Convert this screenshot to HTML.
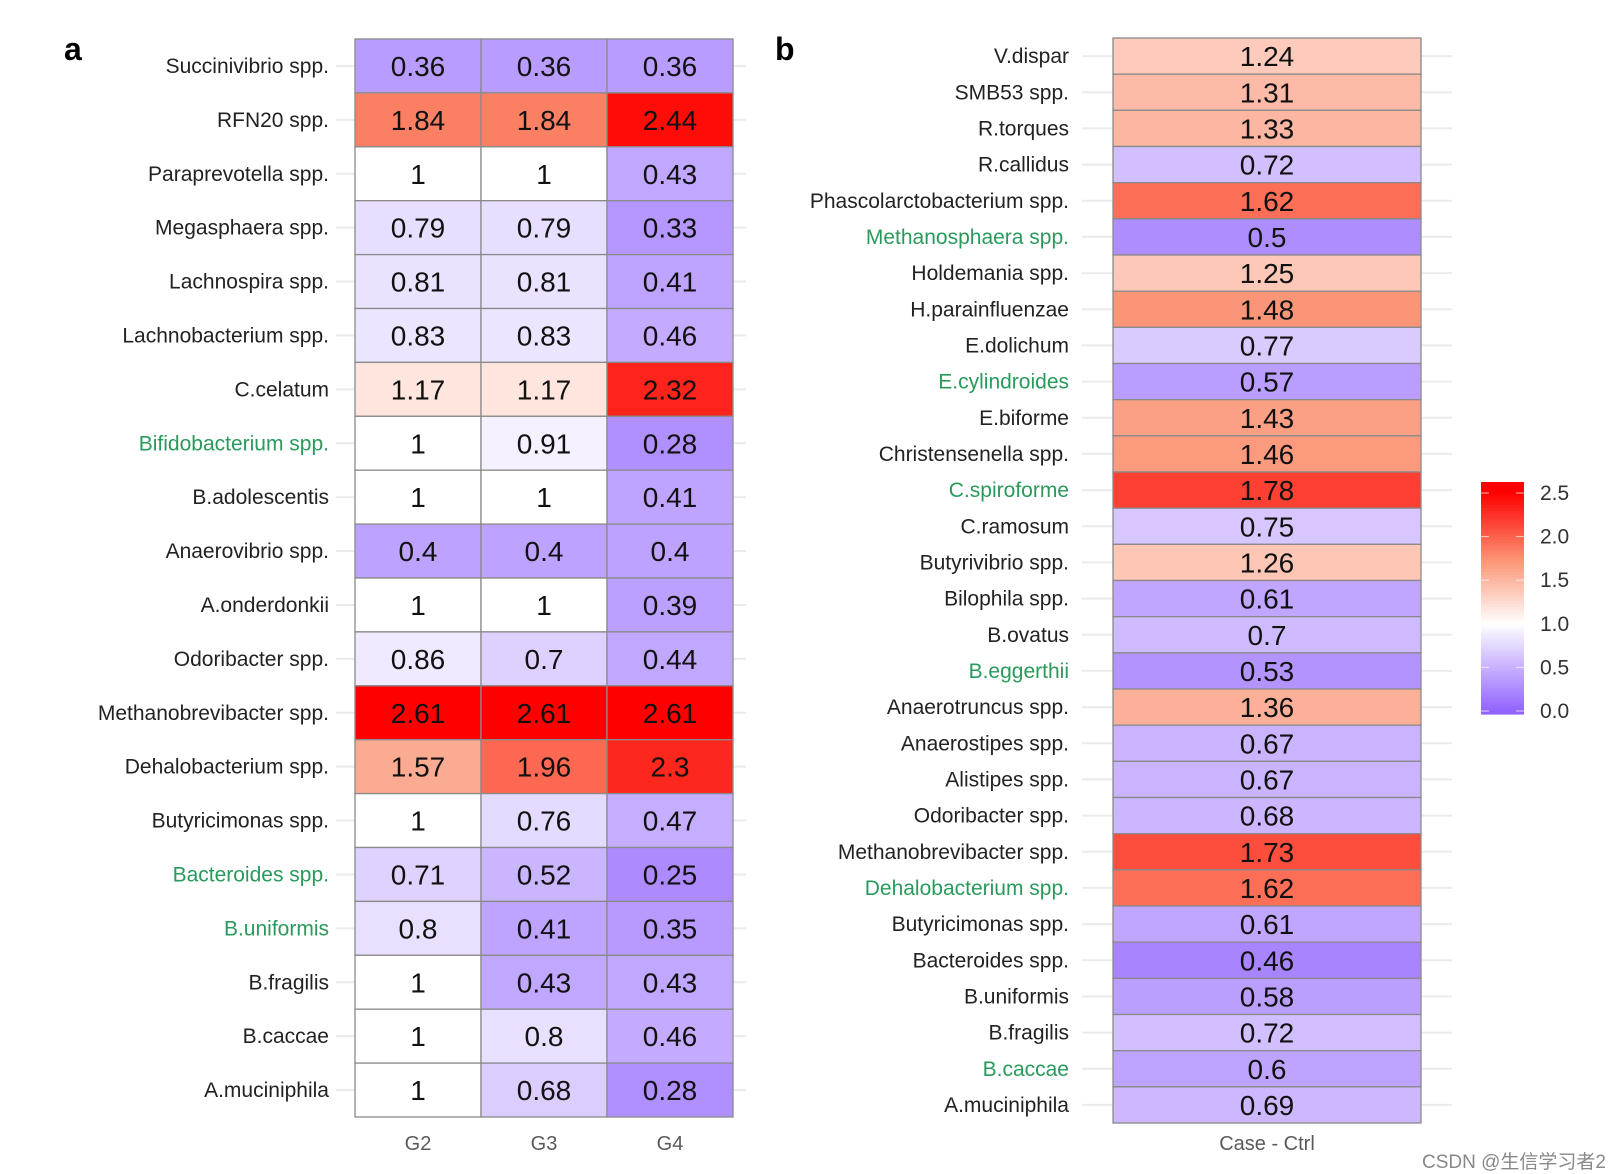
<!DOCTYPE html>
<html><head><meta charset="utf-8">
<style>
html,body{margin:0;padding:0;background:#fff;}
svg{display:block;font-family:"Liberation Sans","Noto Sans CJK SC",sans-serif;}
</style></head>
<body>
<svg id="chart" width="1612" height="1174" viewBox="0 0 1612 1174" xmlns="http://www.w3.org/2000/svg">
<text x="64" y="60" font-size="32" font-weight="bold" fill="#000">a</text>
<text x="775" y="60" font-size="32" font-weight="bold" fill="#000">b</text>
<g id="pa"></g>
<g id="pb"></g>
<g id="legend"></g>
<text x="1606" y="1168" font-size="19" fill="#888" text-anchor="end">CSDN @生信学习者2</text>
</svg>
<script>
const aLabels=["Succinivibrio spp.","RFN20 spp.","Paraprevotella spp.","Megasphaera spp.","Lachnospira spp.","Lachnobacterium spp.","C.celatum","Bifidobacterium spp.","B.adolescentis","Anaerovibrio spp.","A.onderdonkii","Odoribacter spp.","Methanobrevibacter spp.","Dehalobacterium spp.","Butyricimonas spp.","Bacteroides spp.","B.uniformis","B.fragilis","B.caccae","A.muciniphila"];
const aGreen=["Bifidobacterium spp.","Bacteroides spp.","B.uniformis"];
const aCols=["G2","G3","G4"];
const aG2=[0.36,1.84,1,0.79,0.81,0.83,1.17,1,1,0.4,1,0.86,2.61,1.57,1,0.71,0.8,1,1,1];
const aG3=[0.36,1.84,1,0.79,0.81,0.83,1.17,0.91,1,0.4,1,0.7,2.61,1.96,0.76,0.52,0.41,0.43,0.8,0.68];
const aG4=[0.36,2.44,0.43,0.33,0.41,0.46,2.32,0.28,0.41,0.4,0.39,0.44,2.61,2.3,0.47,0.25,0.35,0.43,0.46,0.28];
const bLabels=["V.dispar","SMB53 spp.","R.torques","R.callidus","Phascolarctobacterium spp.","Methanosphaera spp.","Holdemania spp.","H.parainfluenzae","E.dolichum","E.cylindroides","E.biforme","Christensenella spp.","C.spiroforme","C.ramosum","Butyrivibrio spp.","Bilophila spp.","B.ovatus","B.eggerthii","Anaerotruncus spp.","Anaerostipes spp.","Alistipes spp.","Odoribacter spp.","Methanobrevibacter spp.","Dehalobacterium spp.","Butyricimonas spp.","Bacteroides spp.","B.uniformis","B.fragilis","B.caccae","A.muciniphila"];
const bGreen=["Methanosphaera spp.","E.cylindroides","C.spiroforme","B.eggerthii","Dehalobacterium spp.","B.caccae"];
const bVals=[1.24,1.31,1.33,0.72,1.62,0.5,1.25,1.48,0.77,0.57,1.43,1.46,1.78,0.75,1.26,0.61,0.7,0.53,1.36,0.67,0.67,0.68,1.73,1.62,0.61,0.46,0.58,0.72,0.6,0.69];
const legendTicks=[0,0.5,1,1.5,2,2.5];

const NS="http://www.w3.org/2000/svg";
function mk(tag,attrs,parent){const e=document.createElementNS(NS,tag);for(const k in attrs)e.setAttribute(k,attrs[k]);parent.appendChild(e);return e;}
function mix(a,b,t){return [0,1,2].map(i=>Math.round(a[i]+(b[i]-a[i])*t));}
function color(v,lo,hi){
  const W=[255,255,255],L=[145,100,255],M=[251,145,113],R=[255,0,0];
  let c;
  if(v<1){const f=Math.min(1,(1-v)/(1-lo));c=mix(W,L,f);}
  else{const f=Math.min(1,(v-1)/(hi-1));c=f<0.5?mix(W,M,f/0.5):mix(M,R,(f-0.5)/0.5);}
  return `rgb(${c[0]},${c[1]},${c[2]})`;
}
function fmt(v){return String(v);}

// Panel a
(function(){
  const g=document.getElementById('pa');
  const x0=355,x1=733,y0=39,y1=1117;
  const n=aLabels.length,cw=(x1-x0)/aCols.length,rh=(y1-y0)/n;
  const xs=i=>x0+i*cw, ys=j=>y0+j*rh;
  const series=[aG2,aG3,aG4];
  aLabels.forEach((lab,j)=>{
    const yc=ys(j)+rh/2;
    const gl=mk('line',{x1:336,x2:746,y1:yc,y2:yc,stroke:'#ebebeb','stroke-width':2},g);
    
    
    const t=mk('text',{x:329,y:yc+7,'font-size':21,'text-anchor':'end',fill:aGreen.includes(lab)?'#2a9a5c':'#222'},g);
    t.textContent=lab;
    
    
  });
  aCols.forEach((c,i)=>{
    const t=mk('text',{x:xs(i)+cw/2,y:1150,'font-size':20,'text-anchor':'middle',fill:'#5a5a5a'},g);
    t.textContent=c;
    
    
  });
  series.forEach((vals,i)=>{
    vals.forEach((v,j)=>{
      const r=mk('rect',{x:xs(i),y:ys(j),width:cw,height:rh,fill:color(v,0,2.5),stroke:'#8a8a8a','stroke-width':1.3},g);
      
      
      const t=mk('text',{x:xs(i)+cw/2,y:ys(j)+rh/2+10,'font-size':28,'text-anchor':'middle',fill:'#111'},g);
      t.textContent=fmt(v);
      
      
    });
  });
})();

// Panel b
(function(){
  const g=document.getElementById('pb');
  const x0=1113,x1=1421,y0=38,y1=1123;
  const n=bLabels.length,rh=(y1-y0)/n;
  const ys=j=>y0+j*rh;
  bLabels.forEach((lab,j)=>{
    const yc=ys(j)+rh/2;
    const gl=mk('line',{x1:1082,x2:1452,y1:yc,y2:yc,stroke:'#ebebeb','stroke-width':2},g);
    
    
    const t=mk('text',{x:1069,y:yc+7,'font-size':21,'text-anchor':'end',fill:bGreen.includes(lab)?'#2a9a5c':'#222'},g);
    t.textContent=lab;
    
    
  });
  bVals.forEach((v,j)=>{
    const r=mk('rect',{x:x0,y:ys(j),width:x1-x0,height:rh,fill:color(v,0.32,2.0),stroke:'#8a8a8a','stroke-width':1.3},g);
    
    
    const t=mk('text',{x:(x0+x1)/2,y:ys(j)+rh/2+10,'font-size':28,'text-anchor':'middle',fill:'#111'},g);
    t.textContent=fmt(v);
    
    
  });
  const t=mk('text',{x:(x0+x1)/2,y:1150,'font-size':20,'text-anchor':'middle',fill:'#5a5a5a'},g);
  t.textContent='Case - Ctrl';
  
  
})();

// Legend
(function(){
  const g=document.getElementById('legend');
  const lx=1481,lw=43,by0=482,by1=714;
  const ty0=493,ty1=711,vmax=2.5;
  const yv=v=>ty1-(v/vmax)*(ty1-ty0);
  const steps=80;
  for(let k=0;k<steps;k++){
    const ya=by0+k*(by1-by0)/steps, yb=by0+(k+1)*(by1-by0)/steps;
    const v=Math.max(0,Math.min(vmax,(ty1-(ya+yb)/2)/(ty1-ty0)*vmax));
    const r=mk('rect',{x:lx,y:ya,width:lw,height:yb-ya+0.6,fill:color(v,0,2.5)},g);
    
    
  }
  legendTicks.forEach(v=>{
    const y=yv(v);
    const t=mk('text',{x:1540,y:y+7,'font-size':21,fill:'#333'},g);
    t.textContent=v.toFixed(1);
    
    
    const l1=mk('line',{x1:lx,x2:lx+8,y1:y,y2:y,stroke:'#fff','stroke-width':1,opacity:0.7},g);
    
    
    const l2=mk('line',{x1:lx+lw-8,x2:lx+lw,y1:y,y2:y,stroke:'#fff','stroke-width':1,opacity:0.7},g);
    
    
  });
})();
</script>
</body></html>
